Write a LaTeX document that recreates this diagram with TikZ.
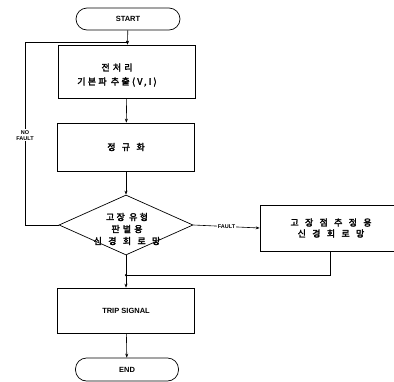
\documentclass[tikz,border=0pt]{standalone}
\usepackage{fontspec}
\setmainfont{Liberation Sans}
\newfontfamily\krn{Noto Sans CJK KR}[AutoFakeBold=2.5,LetterSpace=12]
\newfontfamily\krm{Noto Sans CJK KR}[AutoFakeBold=2.5,LetterSpace=25]
\newfontfamily\krw{Noto Sans CJK KR}[AutoFakeBold=2.5,LetterSpace=70]
\usetikzlibrary{shapes.geometric,arrows.meta,calc}
\begin{document}
\begin{tikzpicture}[x=1pt,y=-1pt,
  box/.style={draw,line width=0.7pt,minimum width=137pt,minimum height=50pt,align=center,font=\bfseries\fontsize{9}{13}\selectfont},
  term/.style={draw,line width=0.7pt,rounded corners=11pt,minimum width=104pt,minimum height=22pt,font=\bfseries\fontsize{7.5}{9}\selectfont},
  dia/.style={draw,line width=0.7pt,diamond,aspect=2.23,inner sep=0pt,minimum width=134pt,minimum height=60pt,align=center,font=\bfseries\fontsize{9}{12}\selectfont},
  conn/.style={line width=0.6pt,-{Stealth[length=4pt,width=3pt]}},
  line/.style={line width=0.6pt},
  lab/.style={font=\bfseries\fontsize{5.5}{6}\selectfont,fill=white,inner sep=1pt,align=center},
  jdot/.style={circle,fill,inner sep=0pt,minimum size=2.5pt}]
\useasboundingbox (0,0) rectangle (394,381);
\begin{scope}
\clip (0,0) rectangle (394,381);
\node[term] (start) at (128,19) {START};
\node[box,minimum height=53pt] (pre) at (127,71.5) {};
\node[align=center,font=\bfseries\fontsize{9}{14}\selectfont] (pretxt) at (117,75) {\krn 전 처 리\\\krm 기본파 추출(V,I)};
\node[box,minimum height=48pt] (norm) at (126,147) {\krw 정규화};
\node[dia] (d) at (126,225) {};
\node[align=center,font=\bfseries\fontsize{9}{12}\selectfont] (dtxt) at (127,229) {\krm 고장 유형\\\krn 판 별 용\\\krw 신경회로망};
\node[box,minimum width=150pt,minimum height=46pt] (loc) at (335,228) {};
\node[align=center,font=\bfseries\fontsize{9}{11}\selectfont] (loctxt) at (331,228) {\krw 고장점추정용\\\krw 신경회로망};
\node[box,minimum height=45pt,font=\bfseries\fontsize{7.5}{9}\selectfont] (trip) at (126,310.5) {TRIP SIGNAL};
\node[term,minimum width=103pt,minimum height=23pt] (end) at (127,369.5) {END};
\coordinate (j1) at (127,42);
\coordinate (nf1) at (25,225);
\coordinate (nf2) at (25,42);
\coordinate (j2) at (126,275);
\coordinate (ls) at ($(loc.south)+(-5,0)$);
\coordinate (lb) at (ls |- j2);
\draw[conn] (start) -- (pre);
\draw[line] (d.west) -- (nf1) -- node[lab,pos=0.49] {NO\\FAULT} (nf2) -- (j1);
\node[jdot] at (j1) {};
\draw[conn] (pre) -- (norm);
\draw[conn] (norm) -- (d);
\draw[conn] (d.east) -- node[lab] {FAULT} (loc.west);
\draw[line] (d.south) -- (j2);
\draw[line] (ls) -- (lb) -- (j2);
\node[jdot] at (j2) {};
\draw[conn] (j2) -- (trip);
\draw[conn] (trip) -- (end);
\end{scope}
\end{tikzpicture}
\end{document}
